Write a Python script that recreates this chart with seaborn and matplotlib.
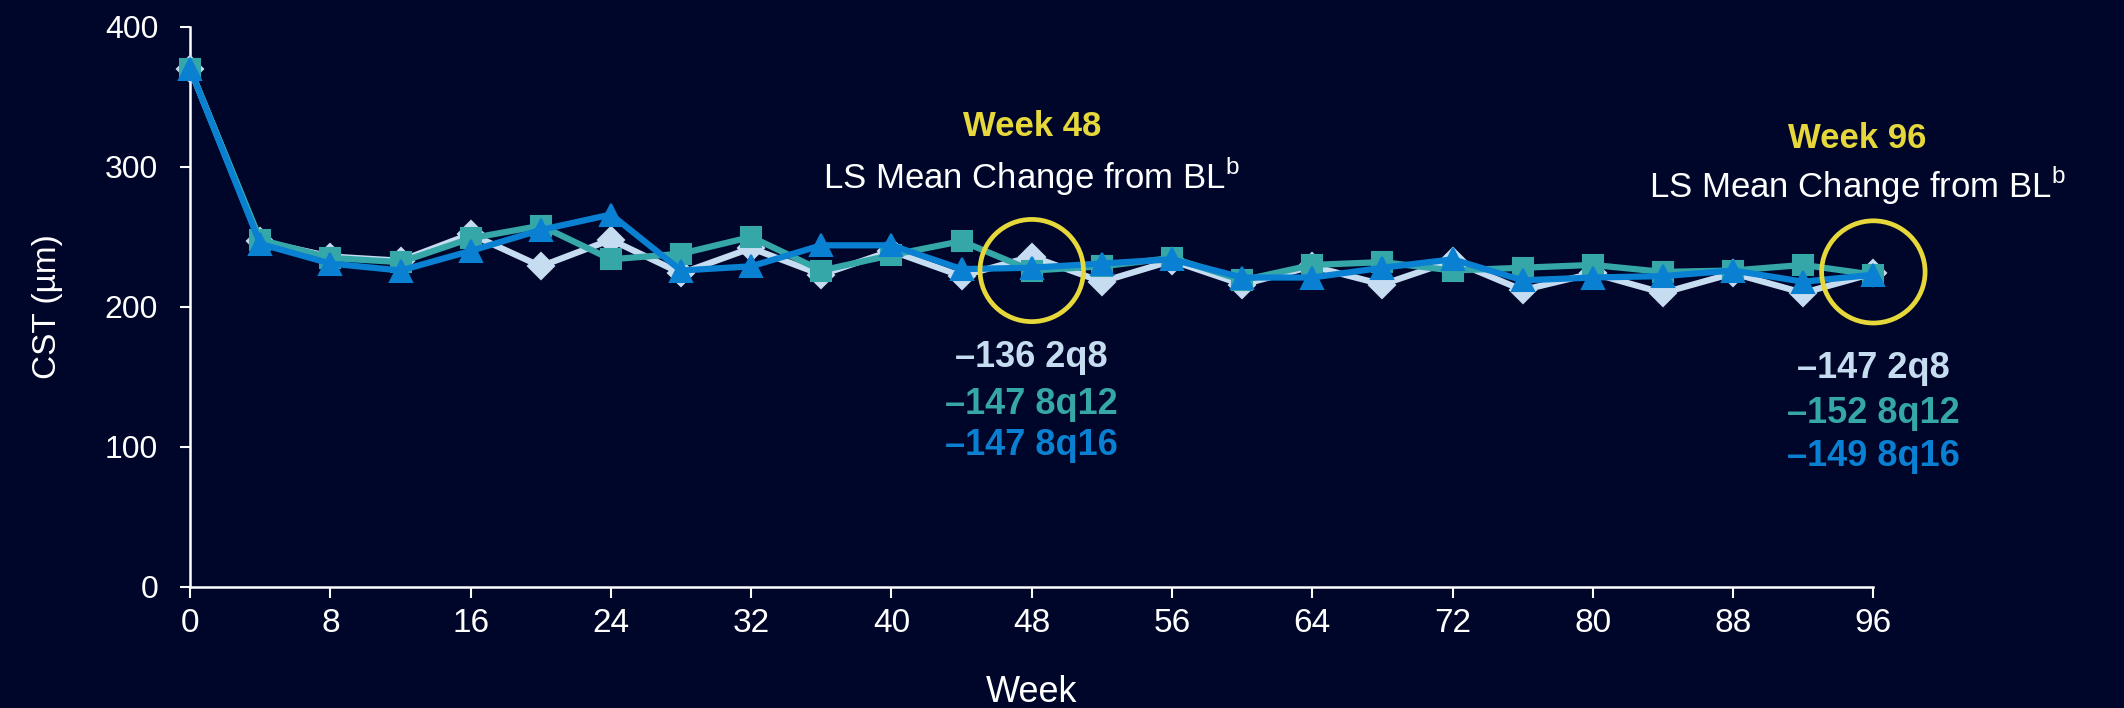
import matplotlib
matplotlib.use("Agg")
import matplotlib.pyplot as plt
from matplotlib.patches import Ellipse
import seaborn as sns
import pandas as pd

# ---- data -------------------------------------------------------------
weeks = [0, 4, 8, 12, 16, 20, 24, 28, 32, 36, 40, 44, 48,
         52, 56, 60, 64, 68, 72, 76, 80, 84, 88, 92, 96]
cst_2q8 = [370, 247, 236, 233, 252, 229, 248, 224, 242, 223, 240, 222, 236,
           218, 233, 216, 229, 216, 233, 212, 224, 210, 224, 210, 224]
cst_8q12 = [370, 248, 235, 232, 249, 258, 234, 238, 250, 226, 237, 247, 226,
            229, 235, 219, 230, 232, 226, 228, 230, 225, 226, 230, 223]
cst_8q16 = [370, 245, 231, 226, 240, 255, 266, 226, 229, 244, 244, 227, 228,
            231, 234, 221, 221, 228, 234, 219, 221, 222, 226, 218, 223]

groups = ["2q8", "8q12", "8q16"]
yticks = [0, 100, 200, 300, 400]
xticks = list(range(0, 97, 8))

# LS mean change from baseline at the two landmark visits
landmark_weeks = [48, 96]
ls_change = {48: [-136, -147, -147], 96: [-147, -152, -149]}

# ---- styling ----------------------------------------------------------
BG = "#00062a"
colors = {"2q8": "#c6dcf0", "8q12": "#35a7a9", "8q16": "#0a80d2"}
markers = {"2q8": "D", "8q12": "s", "8q16": "^"}
msizes = {"2q8": 13, "8q12": 15, "8q16": 16}
YELLOW = "#e6d83a"
FONT = "Liberation Sans"

sns.set_theme(style="white")
plt.rcParams["font.family"] = [FONT, "DejaVu Sans"]
plt.rcParams["mathtext.fontset"] = "custom"
plt.rcParams["mathtext.rm"] = FONT

df = pd.DataFrame({
    "Week": weeks * 3,
    "CST": cst_2q8 + cst_8q12 + cst_8q16,
    "Group": [g for g in groups for _ in weeks],
})

fig = plt.figure(figsize=(21.24, 7.08), dpi=100, facecolor=BG)
ax = fig.add_axes([0.0895, 0.171, 0.7925, 0.791])
ax.set_facecolor(BG)

sns.lineplot(data=df, x="Week", y="CST", hue="Group", style="Group",
             hue_order=groups, style_order=groups, palette=colors,
             markers=markers, dashes=False, linewidth=4.5,
             legend=False, ax=ax)

for i, (line, g) in enumerate(zip(ax.lines, groups)):
    line.set_markersize(msizes[g])
    line.set_markeredgecolor(colors[g])
    line.set_markerfacecolor(colors[g])
    line.set_markeredgewidth(1.5)
    line.set_solid_joinstyle("round")
    line.set_zorder(3 + i)
    line.set_clip_on(False)

ax.set_xlim(0, 96)
ax.set_ylim(0, 400)
ax.set_xticks(xticks)
ax.set_yticks(yticks)

sns.despine(ax=ax)
for side in ("left", "bottom"):
    ax.spines[side].set_color("white")
    ax.spines[side].set_linewidth(1.8)

ax.tick_params(axis="y", colors="white", length=7, width=1.5, pad=16,
               labelsize=23, left=True)
ax.tick_params(axis="x", colors="white", length=8, width=1.5, pad=7,
               labelsize=24, bottom=True)

ax.set_xlabel("Week", color="white", fontsize=26, labelpad=26)
ax.set_ylabel("CST (\u00b5m)", color="white", fontsize=24, labelpad=30)

# ---- landmark annotations ---------------------------------------------
label_pos = {
    48: dict(x=48, vx=48, week_y=329, ls_y=293, vals_y=[164, 130, 101],
             circ_y=226),
    96: dict(x=95.1, vx=96, week_y=320, ls_y=287, vals_y=[156, 124, 93],
             circ_y=225),
}
for wk in landmark_weeks:
    p = label_pos[wk]
    ax.add_patch(Ellipse((wk, p["circ_y"]), width=5.9, height=73, fill=False,
                         edgecolor=YELLOW, linewidth=3.4, zorder=10,
                         clip_on=False))
    ax.text(p["x"], p["week_y"], f"Week {wk}", color=YELLOW, fontsize=25,
            fontweight="bold", ha="center", va="center")
    ax.text(p["x"], p["ls_y"], r"LS Mean Change from BL$^{\mathrm{b}}$",
            color="white", fontsize=25, ha="center", va="center")
    for g, v, yy in zip(groups, ls_change[wk], p["vals_y"]):
        ax.text(p["vx"], yy, f"\u2013{abs(v)} {g}", color=colors[g],
                fontsize=26, fontweight="bold", ha="center", va="center")

fig.savefig("out.png", dpi=100, facecolor=BG)
